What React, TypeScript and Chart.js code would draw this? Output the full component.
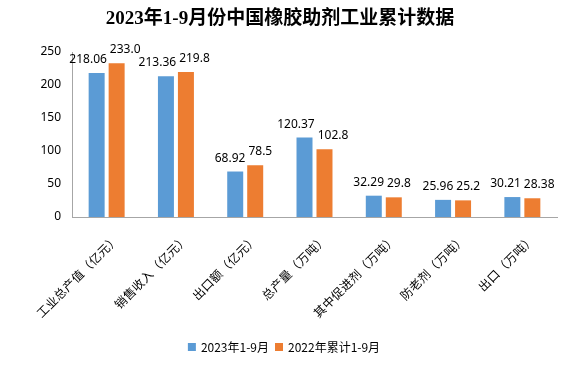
import React, { useEffect, useRef } from "react";
import { Chart, registerables } from "chart.js";
Chart.register(...registerables);

const titleText = "2023年1-9月份中国橡胶助剂工业累计数据";
const categories = [
  "工业总产值（亿元）",
  "销售收入（亿元）",
  "出口额（亿元）",
  "总产量（万吨）",
  "其中促进剂（万吨）",
  "防老剂（万吨）",
  "出口（万吨）",
];
const seriesNames = ["2023年1-9月", "2022年累计1-9月"];
const values2023 = [218.06, 213.36, 68.92, 120.37, 32.29, 25.96, 30.21];
const values2022 = [233.0, 219.8, 78.5, 102.8, 29.8, 25.2, 28.38];
const labels2023 = ["218.06", "213.36", "68.92", "120.37", "32.29", "25.96", "30.21"];
const labels2022 = ["233.0", "219.8", "78.5", "102.8", "29.8", "25.2", "28.38"];
const yMin = 0;
const yMax = 250;
const yStep = 50;

const BLUE = "#5B9BD5";
const ORANGE = "#ED7D31";
const NUM_FONT = "12px 'Noto Sans', 'Noto Sans CJK SC', sans-serif";
const CJK_FONT = "12px 'Noto Sans CJK SC', sans-serif";
const CHAR_PITCH = 12.3;

const decorPlugin = {
  id: "decor",
  afterDraw(chart: any) {
    const ctx = chart.ctx as CanvasRenderingContext2D;
    const area = chart.chartArea;
    ctx.save();
    // title
    ctx.font = "bold 19px 'Liberation Serif', 'Noto Sans CJK SC', serif";
    ctx.fillStyle = "#000";
    ctx.textAlign = "center";
    ctx.textBaseline = "middle";
    ctx.fillText(titleText, 280, 19);

    // category labels (rotated, full-width cells)
    const xs = chart.scales.x;
    ctx.font = CJK_FONT;
    ctx.fillStyle = "#000";
    ctx.textAlign = "center";
    ctx.textBaseline = "middle";
    for (let i = 0; i < categories.length; i++) {
      const px = xs.getPixelForValue(i);
      const chars = Array.from(categories[i]);
      const L = chars.length * CHAR_PITCH;
      ctx.save();
      ctx.translate(px + 10, area.bottom + 20);
      ctx.rotate(-Math.PI / 4);
      chars.forEach((ch, k) => {
        ctx.fillText(ch, -L + (k + 0.5) * CHAR_PITCH, 0);
      });
      ctx.restore();
    }

    // value labels
    ctx.font = NUM_FONT;
    ctx.fillStyle = "#000";
    ctx.textAlign = "center";
    ctx.textBaseline = "alphabetic";
    const m0 = chart.getDatasetMeta(0);
    const m1 = chart.getDatasetMeta(1);
    const lab = [labels2023, labels2022];
    for (let i = 0; i < categories.length; i++) {
      const b = m0.data[i];
      const o = m1.data[i];
      let bx = b.x;
      let ox = o.x;
      const by = b.y - 10;
      const oy = o.y - 10;
      const wb = ctx.measureText(lab[0][i]).width;
      const wo = ctx.measureText(lab[1][i]).width;
      if (Math.abs(by - oy) < 12) {
        const ov = bx + wb / 2 + 3 - (ox - wo / 2);
        if (ov > 0) {
          bx -= ov / 2;
          ox += ov / 2;
        }
      }
      ctx.fillText(lab[0][i], bx, by);
      ctx.fillText(lab[1][i], ox, oy);
    }

    // legend
    ctx.font = CJK_FONT;
    ctx.textAlign = "left";
    ctx.textBaseline = "middle";
    const w1 = ctx.measureText(seriesNames[0]).width;
    const w2 = ctx.measureText(seriesNames[1]).width;
    const box = 8;
    const gapT = 5;
    const gapI = 6;
    const total = box + gapT + w1 + gapI + box + gapT + w2;
    let x = 284 - total / 2;
    const cy = 347;
    ctx.fillStyle = BLUE;
    ctx.fillRect(x, cy - 4, box, 8);
    x += box + gapT;
    ctx.fillStyle = "#000";
    ctx.fillText(seriesNames[0], x, cy);
    x += w1 + gapI;
    ctx.fillStyle = ORANGE;
    ctx.fillRect(x, cy - 4, box, 8);
    x += box + gapT;
    ctx.fillStyle = "#000";
    ctx.fillText(seriesNames[1], x, cy);
    ctx.restore();
  },
};

export default function App() {
  const ref = useRef<HTMLCanvasElement>(null);
  useEffect(() => {
    if (!ref.current) return;
    const chart = new Chart(ref.current, {
      type: "bar",
      data: {
        labels: categories,
        datasets: [
          {
            label: seriesNames[0],
            data: values2023,
            backgroundColor: BLUE,
            categoryPercentage: 0.577,
            barPercentage: 0.8,
          },
          {
            label: seriesNames[1],
            data: values2022,
            backgroundColor: ORANGE,
            categoryPercentage: 0.577,
            barPercentage: 0.8,
          },
        ],
      },
      options: {
        animation: false,
        responsive: true,
        maintainAspectRatio: false,
        layout: { padding: { top: 52, left: 0, right: 15, bottom: 0 } },
        plugins: {
          legend: { display: false },
          title: { display: false },
          tooltip: { enabled: false },
        },
        scales: {
          x: {
            grid: { display: false, drawTicks: false },
            border: { display: true, color: "#A6A6A6", width: 1 },
            ticks: { display: false },
            afterFit: (s: any) => {
              s.height = 368 - 217;
            },
          },
          y: {
            min: yMin,
            max: yMax,
            grid: { display: false, drawTicks: false },
            border: { display: true, color: "#A6A6A6", width: 1 },
            ticks: {
              stepSize: yStep,
              padding: 11,
              color: "#000",
              font: { family: "'Noto Sans', sans-serif", size: 12 },
            },
            afterFit: (s: any) => {
              s.width = 72;
            },
          },
        },
      },
      plugins: [decorPlugin],
    });
    return () => chart.destroy();
  }, []);
  return (
    <div style={{ position: "fixed", left: 0, top: 0, width: 572, height: 368, background: "#fff" }}>
      <canvas ref={ref} />
    </div>
  );
}
